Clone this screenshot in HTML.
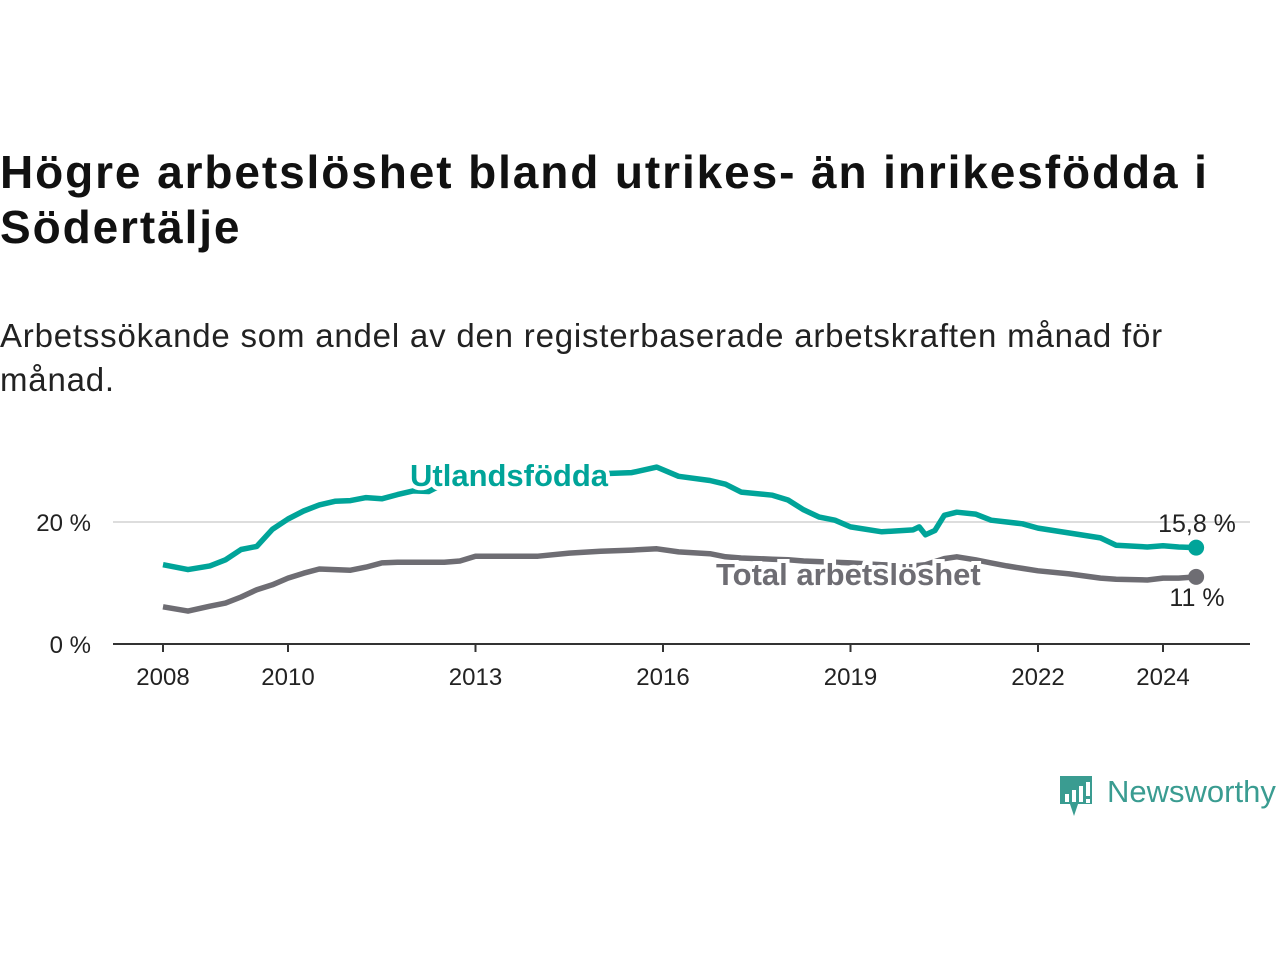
<!DOCTYPE html>
<html><head><meta charset="utf-8">
<style>
body{margin:0;width:1280px;height:960px;background:#fff;font-family:"Liberation Sans",sans-serif;position:relative;overflow:hidden;color:#111}
#title{position:absolute;left:0;top:145px;font-size:46px;letter-spacing:1.9px;font-weight:bold;line-height:55px;color:#111;width:1280px;white-space:nowrap}
#subtitle{position:absolute;left:0;top:314px;font-size:33px;letter-spacing:0.8px;line-height:44px;color:#222;width:1280px;white-space:nowrap}
svg{position:absolute;left:0;top:0}
</style></head><body>
<div id="title">Högre arbetslöshet bland utrikes- än inrikesfödda i<br>Södertälje</div>
<div id="subtitle">Arbetssökande som andel av den registerbaserade arbetskraften månad för<br>månad.</div>
<svg id="chart" width="1280" height="960"></svg>
<script>
const years=[2008,2008.4,2008.75,2009,2009.25,2009.5,2009.75,2010,2010.25,2010.5,2010.75,2011,2011.25,2011.5,2011.75,2012,2012.25,2012.5,2012.75,2013,2013.5,2014,2014.5,2015,2015.5,2015.9,2016.25,2016.75,2017,2017.25,2017.75,2018,2018.25,2018.5,2018.75,2019,2019.5,2020,2020.1,2020.2,2020.35,2020.5,2020.7,2021,2021.25,2021.5,2021.75,2022,2022.5,2023,2023.25,2023.75,2024,2024.25,2024.53];
const foreign=[13.0,12.2,12.8,13.8,15.5,16.0,18.8,20.5,21.8,22.8,23.4,23.5,24.0,23.8,24.5,25.1,25.0,26.3,26.2,26.8,27.2,27.5,27.7,27.9,28.1,29.0,27.5,26.8,26.2,24.9,24.4,23.6,22.0,20.8,20.3,19.2,18.4,18.7,19.2,17.9,18.6,21.1,21.6,21.3,20.3,20.0,19.7,19.0,18.2,17.4,16.2,15.9,16.1,15.9,15.8];
const total=[6.1,5.4,6.2,6.7,7.7,8.9,9.7,10.8,11.6,12.3,12.2,12.1,12.6,13.3,13.4,13.4,13.4,13.4,13.6,14.4,14.4,14.4,14.9,15.2,15.4,15.6,15.1,14.8,14.3,14.1,13.9,13.8,13.6,13.5,13.4,13.3,13.0,12.8,12.9,13.0,13.5,14.0,14.3,13.8,13.3,12.8,12.4,12.0,11.5,10.8,10.6,10.5,10.8,10.8,11.0];
const xTicks=[2008,2010,2013,2016,2019,2022,2024];
const yTicks=[0,20];
const NS="http://www.w3.org/2000/svg";
const svg=document.getElementById('chart');
const X=v=>163+(v-2008)*62.5;
const Y=v=>644-v*6.1;
function mk(t,a,p){const e=document.createElementNS(NS,t);for(const k in a)e.setAttribute(k,a[k]);(p||svg).appendChild(e);return e;}
yTicks.forEach(t=>{
  if(t>0){const g=mk('line',{x1:113,x2:1250,y1:Y(t),y2:Y(t),stroke:'#dddddd','stroke-width':2});
  
  }
  const l=mk('text',{x:91,y:Y(t)+9,'text-anchor':'end','font-size':24,fill:'#222'});l.textContent=t+' %';
  
  
});
const ax=mk('line',{x1:113,x2:1250,y1:644,y2:644,stroke:'#333','stroke-width':2});


xTicks.forEach(t=>{
  mk('line',{x1:X(t),x2:X(t),y1:644,y2:652,stroke:'#333','stroke-width':2});
  const l=mk('text',{x:X(t),y:685,'text-anchor':'middle','font-size':24,fill:'#222'});l.textContent=t;
  
  
});
function line(vals,col,name){
  const d=vals.map((v,i)=>(i?'L':'M')+X(years[i]).toFixed(1)+','+Y(v).toFixed(1)).join('');
  const p=mk('path',{d:d,fill:'none',stroke:col,'stroke-width':5.5,'stroke-linejoin':'round'});
  
  
  const n=vals.length-1;
  const c=mk('circle',{cx:X(years[n]),cy:Y(vals[n]),r:8,fill:col});
  
  
}
line(total,'#6e6d73','total');
line(foreign,'#00a499','foreign');
function lab(txt,x,y,col,name,bold,anchor,size){
  const t=mk('text',{x:x,y:y,'font-size':size,'font-weight':bold?'bold':'normal',fill:col,'text-anchor':anchor,stroke:'#fff','stroke-width':bold?8:0,'paint-order':'stroke'});
  t.textContent=txt;
  
  
}
lab('Utlandsfödda',410,486,'#00a499','foreign-series-label',true,'start',31);
lab('Total arbetslöshet',716,585,'#6e6d73','total-series-label',true,'start',31);
lab('15,8 %',1197,532,'#222','foreign-end-value',false,'middle',25);
lab('11 %',1197,606,'#222','total-end-value',false,'middle',25);
const g=mk('g',{});


mk('path',{d:'M1060,776 h32 v28 h-14 l-4,12 l-4,-12 h-10 z',fill:'#3a9c91'},g);
[[1065,8],[1072,12],[1079,16]].forEach(b=>mk('rect',{x:b[0],y:802-b[1],width:4,height:b[1],fill:'#fff'},g));
mk('rect',{x:1086,y:782,width:4,height:14,fill:'#fff'},g);
mk('rect',{x:1086,y:799,width:4,height:4,fill:'#fff'},g);
const lt=mk('text',{x:1107,y:802,'font-size':31,fill:'#3a9c91'},g);lt.textContent='Newsworthy';
</script>
</body></html>
